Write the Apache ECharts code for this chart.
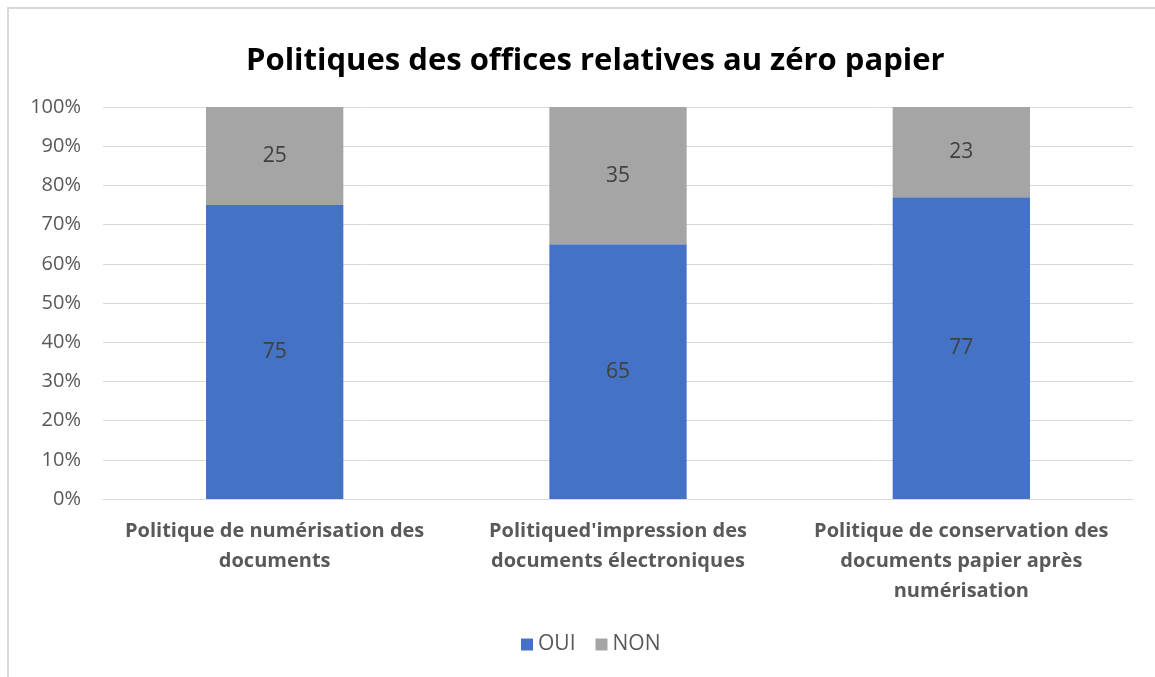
<!DOCTYPE html>
<html>
<head>
<meta charset="utf-8">
<script src="https://cdn.jsdelivr.net/npm/echarts@6/dist/echarts.min.js"></script>
<style>
  html, body { margin: 0; padding: 0; background: #fff; }
  #container { width: 1155px; height: 677px; }
</style>
</head>
<body>
<div id="container"></div>
<script>
const categories = [
  "Politique de numérisation des\ndocuments",
  "Politiqued'impression des\ndocuments électroniques",
  "Politique de conservation des\ndocuments papier après\nnumérisation",
];
const oui = [75, 65, 77];
const non = [25, 35, 23];

const dom = document.getElementById("container");
const myChart = echarts.init(dom, null, { renderer: "canvas" });

const font = "'Open Sans', Lato, sans-serif";

const option = {
  animation: false,
  textStyle: { fontFamily: font },
  title: {
    text: "Politiques des offices relatives au zéro papier",
    left: 241,
    top: 41,
    textStyle: { fontSize: 31, fontWeight: "bold", color: "#000", fontFamily: font },
  },
  graphic: [
    {
      type: "rect",
      shape: { x: 8, y: 8, width: 1160, height: 690 },
      style: { fill: "none", stroke: "#d9d9d9", lineWidth: 2 },
      silent: true,
    },
  ],
  legend: {
    bottom: 17,
    left: 516,
    itemWidth: 12,
    itemHeight: 12,
    itemGap: 20,
    icon: "rect",
    textStyle: { fontSize: 21, color: "#595959", fontFamily: font },
    data: ["OUI", "NON"],
  },
  grid: { left: 103, right: 22, top: 107, bottom: 178 },
  xAxis: {
    type: "category",
    data: categories,
    axisLine: { lineStyle: { color: "#d9d9d9", width: 1 } },
    axisTick: { show: false },
    axisLabel: {
      fontSize: 20,
      fontWeight: "bold",
      color: "#595959",
      lineHeight: 30,
      margin: 17,
      interval: 0,
      fontFamily: font,
    },
  },
  yAxis: {
    type: "value",
    min: 0,
    max: 100,
    interval: 10,
    axisLine: { show: false },
    axisTick: { show: false },
    splitLine: { lineStyle: { color: "#d9d9d9", width: 1 } },
    axisLabel: {
      formatter: "{value}%",
      fontSize: 20,
      color: "#595959",
      margin: 22,
      fontFamily: font,
    },
  },
  series: [
    {
      name: "OUI",
      type: "bar",
      stack: "total",
      barWidth: "40%",
      data: oui,
      itemStyle: { color: "#4472C4" },
      label: { show: true, position: "inside", fontSize: 21, color: "#404040", fontFamily: font },
    },
    {
      name: "NON",
      type: "bar",
      stack: "total",
      barWidth: "40%",
      data: non,
      itemStyle: { color: "#A5A5A5" },
      label: { show: true, position: "inside", fontSize: 21, color: "#404040", fontFamily: font },
    },
  ],
};

myChart.setOption(option);
window.addEventListener("resize", myChart.resize);
</script>
</body>
</html>
